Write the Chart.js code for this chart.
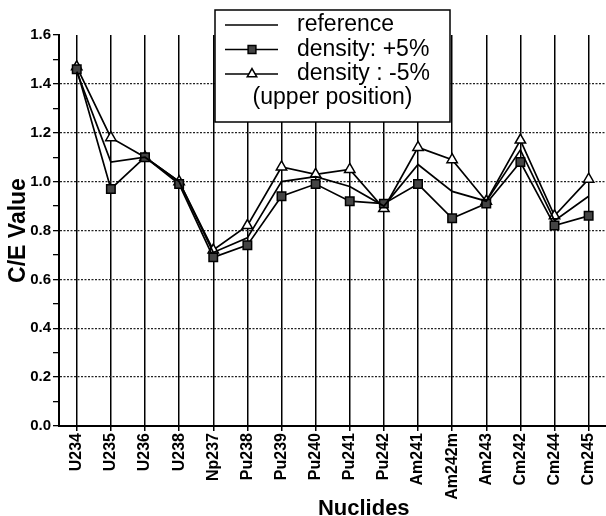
<!DOCTYPE html>
<html>
<head>
<meta charset="utf-8">
<title>C/E Value by nuclide</title>
<script src="https://cdn.jsdelivr.net/npm/chart.js@4"></script>
<style>
  html, body { margin: 0; padding: 0; background: #fff; overflow: hidden; }
  #wrap { width: 606px; height: 516px; overflow: hidden; position: relative; }
  #chart { display: block; }
</style>
</head>
<body>
<div id="wrap">
  <canvas id="chart" width="676" height="516"></canvas>
</div>
<script>
// nuclides along the x axis
const nuclides = ['U234', 'U235', 'U236', 'U238', 'Np237', 'Pu238', 'Pu239', 'Pu240',
  'Pu241', 'Pu242', 'Am241', 'Am242m', 'Am243', 'Cm242', 'Cm244', 'Cm245'];

// C/E values
const reference = [1.45, 1.08, 1.10, 1.00, 0.71, 0.77, 1.00, 1.02, 0.98, 0.90, 1.07, 0.96, 0.92, 1.13, 0.84, 0.94];
const densityPlus = [1.46, 0.97, 1.10, 0.99, 0.69, 0.74, 0.94, 0.99, 0.92, 0.91, 0.99, 0.85, 0.91, 1.08, 0.82, 0.86];
const densityMinus = [1.47, 1.18, 1.10, 1.00, 0.72, 0.82, 1.06, 1.03, 1.05, 0.89, 1.14, 1.09, 0.92, 1.17, 0.86, 1.01];

const yTicks = [0.0, 0.2, 0.4, 0.6, 0.8, 1.0, 1.2, 1.4, 1.6];
const legendNote = '(upper position)';

const FONT = "Arial, 'Liberation Sans', Helvetica, sans-serif";

function toPoints(values) {
  return values.map((v, i) => ({ x: i, y: v }));
}

// legend box drawn inside the plot, like in the paper figure
const boxLegend = {
  id: 'boxLegend',
  afterDraw(chart) {
    const ctx = chart.ctx;
    const left = 215, top = 10, right = 450, bottom = 122;
    ctx.save();
    ctx.fillStyle = '#fff';
    ctx.fillRect(left, top, right - left, bottom - top);
    ctx.strokeStyle = '#000';
    ctx.lineWidth = 1.5;
    ctx.strokeRect(left, top, right - left, bottom - top);

    ctx.font = '23px ' + FONT;
    ctx.textBaseline = 'middle';
    chart.data.datasets.forEach((ds, i) => {
      const y = 25 + i * 24.5;
      ctx.beginPath();
      ctx.lineWidth = 1.5;
      ctx.strokeStyle = '#000';
      ctx.moveTo(225, y);
      ctx.lineTo(278, y);
      ctx.stroke();
      if (ds.pointRadius > 0) {
        ctx.fillStyle = ds.pointBackgroundColor;
        ctx.strokeStyle = ds.pointBorderColor;
        ctx.lineWidth = ds.pointBorderWidth;
        Chart.helpers.drawPoint(ctx, {
          pointStyle: ds.pointStyle,
          radius: ds.pointRadius - 0.5,
          borderWidth: ds.pointBorderWidth
        }, 252, y);
      }
      ctx.fillStyle = '#000';
      ctx.textAlign = 'left';
      ctx.fillText(ds.label, 297, y);
    });
    ctx.textAlign = 'center';
    ctx.fillText(legendNote, (left + right) / 2, 98);
    ctx.restore();
  }
};

const isMajor = v => Math.round(v * 10) % 2 === 0;

new Chart(document.getElementById('chart'), {
  type: 'line',
  data: {
    datasets: [
      {
        label: 'reference',
        data: toPoints(reference),
        borderColor: '#000',
        borderWidth: 1.7,
        pointRadius: 0,
        tension: 0
      },
      {
        label: 'density: +5%',
        data: toPoints(densityPlus),
        borderColor: '#000',
        borderWidth: 1.7,
        pointStyle: 'rect',
        pointRadius: 6,
        pointBorderWidth: 1.5,
        pointBackgroundColor: '#444',
        pointBorderColor: '#000',
        tension: 0
      },
      {
        label: 'density : -5%',
        data: toPoints(densityMinus),
        borderColor: '#000',
        borderWidth: 1.7,
        pointStyle: 'triangle',
        pointRadius: 6,
        pointBorderWidth: 1.5,
        pointBackgroundColor: '#fff',
        pointBorderColor: '#000',
        tension: 0
      }
    ]
  },
  options: {
    responsive: false,
    animation: false,
    layout: { padding: { top: 35, right: 0, bottom: 0, left: 0 } },
    plugins: {
      legend: { display: false },
      tooltip: { enabled: false }
    },
    scales: {
      x: {
        type: 'linear',
        min: -0.52,
        max: 17.34,
        afterBuildTicks: scale => {
          scale.ticks = nuclides.map((_, i) => ({ value: i }));
        },
        afterFit: scale => { scale.height = 90; },
        grid: {
          color: '#000',
          lineWidth: 1.5,
          tickLength: 5,
          tickColor: '#000'
        },
        border: { display: true, color: '#000', width: 2 },
        ticks: {
          autoSkip: false,
          minRotation: 90,
          maxRotation: 90,
          padding: 2,
          color: '#000',
          font: { family: FONT, size: 16, weight: 'bold' },
          callback: v => nuclides[v]
        },
        title: {
          display: true,
          text: 'Nuclides',
          color: '#000',
          padding: { top: 0, bottom: -6 },
          font: { family: FONT, size: 22, weight: 'bold' }
        }
      },
      y: {
        min: 0,
        max: 1.6,
        afterBuildTicks: scale => {
          const t = [];
          for (let i = 0; i <= 16; i++) t.push({ value: i / 10 });
          scale.ticks = t;
        },
        afterFit: scale => { scale.width = 59; },
        grid: {
          color: ctx => {
            const v = ctx.tick ? ctx.tick.value : 0;
            if (!isMajor(v) || v <= 0 || v >= 1.6) return 'rgba(0,0,0,0)';
            return '#222';
          },
          lineWidth: 1.3,
          tickLength: 6,
          tickColor: '#000'
        },
        border: { display: true, color: '#000', width: 2, dash: [2, 1.5] },
        ticks: {
          autoSkip: false,
          padding: 2,
          color: '#000',
          font: { family: FONT, size: 15, weight: 'bold' },
          callback: v => (isMajor(v) && yTicks.some(t => Math.abs(t - v) < 1e-6)) ? v.toFixed(1) : ''
        },
        title: {
          display: true,
          text: 'C/E Value',
          color: '#000',
          padding: { top: 5, bottom: 5 },
          font: { family: FONT, size: 23, weight: 'bold' }
        }
      }
    }
  },
  plugins: [boxLegend]
});
</script>
</body>
</html>
